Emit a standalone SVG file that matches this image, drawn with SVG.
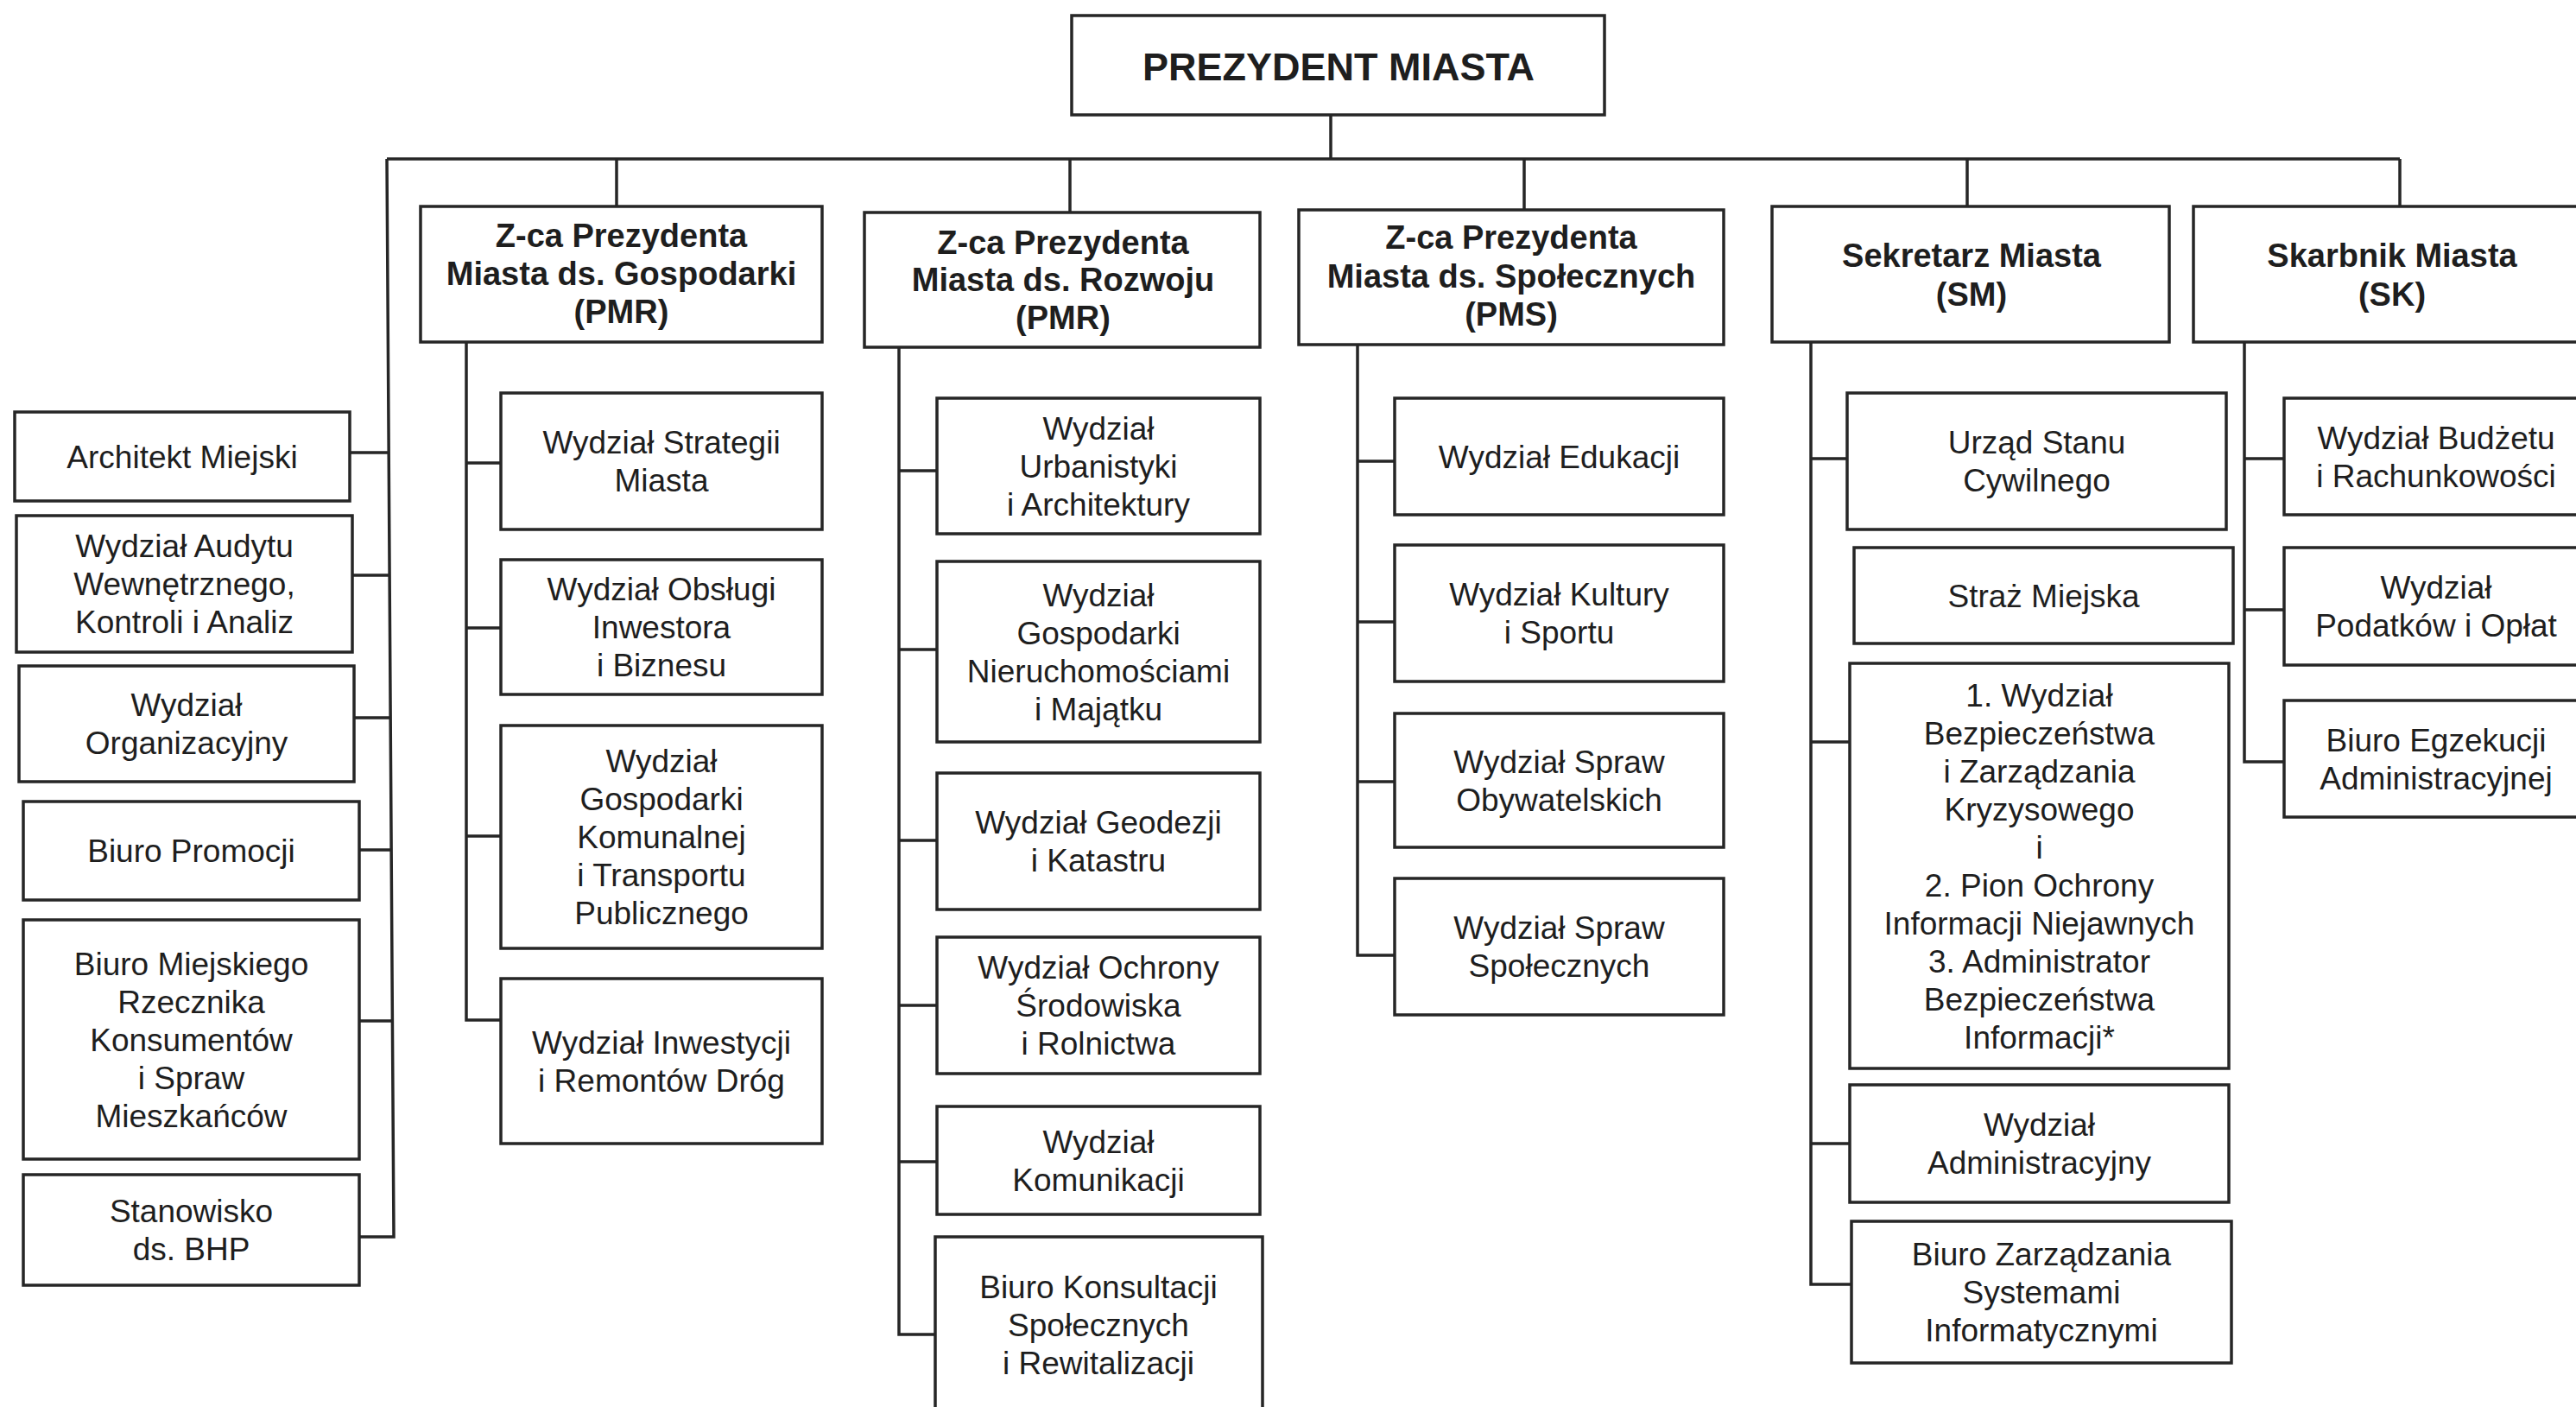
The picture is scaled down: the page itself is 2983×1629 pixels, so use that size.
<svg xmlns="http://www.w3.org/2000/svg" width="2983" height="1629" viewBox="0 0 2983 1629">
<style>
.box{fill:#fff;stroke:#262626;stroke-width:3.5}
.c{stroke:#262626;stroke-width:3.5;fill:none}
.t{font-family:"Liberation Sans",Arial,sans-serif;font-size:37px;fill:#1e1e1e;text-anchor:middle}
.h{font-weight:bold;font-size:38px}
.p{font-weight:bold;font-size:45px}
</style>
<rect x="0" y="0" width="2983" height="1629" fill="#ffffff"/>
<g id="connectors">
<path class="c" d="M1541 133V184M448 184H2779M714 184V239M1239 184V246M1765 184V243M2278 184V239M2779 184V239"/>
<path class="c" d="M448 184L456 1432H416M405 524H449M408 666H452M410 831H453M416 984H454M416 1182H455"/>
<path class="c" d="M540 396V1181H580M540 536H580M540 727H580M540 968H580"/>
<path class="c" d="M1041 402V1545H1083M1041 545H1085M1041 752H1085M1041 973H1085M1041 1164H1085M1041 1345H1085"/>
<path class="c" d="M1572 399V1106H1615M1572 534H1615M1572 720H1615M1572 905H1615"/>
<path class="c" d="M2097 396V1487H2144M2097 531H2139M2097 859H2142M2097 1324H2142"/>
<path class="c" d="M2599 396V882H2645M2599 531H2645M2599 706H2645"/>
</g>
<g id="prezydent"><rect class="box" x="1241" y="18" width="617" height="115"/><text class="t p" x="1550" y="93">PREZYDENT MIASTA</text></g>
<g id="zca-gospodarki"><rect class="box" x="487" y="239" width="465" height="157"/><text class="t h"><tspan x="719.5" y="286">Z-ca Prezydenta</tspan><tspan x="719.5" y="330">Miasta ds. Gospodarki</tspan><tspan x="719.5" y="374">(PMR)</tspan></text></g>
<g id="zca-rozwoju"><rect class="box" x="1001" y="246" width="458" height="156"/><text class="t h"><tspan x="1231" y="294">Z-ca Prezydenta</tspan><tspan x="1231" y="337">Miasta ds. Rozwoju</tspan><tspan x="1231" y="381">(PMR)</tspan></text></g>
<g id="zca-spolecznych"><rect class="box" x="1504" y="243" width="492" height="156"/><text class="t h"><tspan x="1750" y="288">Z-ca Prezydenta</tspan><tspan x="1750" y="333">Miasta ds. Społecznych</tspan><tspan x="1750" y="377">(PMS)</tspan></text></g>
<g id="sekretarz"><rect class="box" x="2052" y="239" width="460" height="157"/><text class="t h"><tspan x="2283" y="309">Sekretarz Miasta</tspan><tspan x="2283" y="354">(SM)</tspan></text></g>
<g id="skarbnik"><rect class="box" x="2540" y="239" width="460" height="157"/><text class="t h"><tspan x="2770" y="309">Skarbnik Miasta</tspan><tspan x="2770" y="354">(SK)</tspan></text></g>

<g id="architekt"><rect class="box" x="17" y="477" width="388" height="103"/><text class="t" x="211" y="542">Architekt Miejski</text></g>
<g id="audyt"><rect class="box" x="19" y="597" width="389" height="158"/><text class="t"><tspan x="213.5" y="645">Wydział Audytu</tspan><tspan x="213.5" y="689">Wewnętrznego,</tspan><tspan x="213.5" y="733">Kontroli i Analiz</tspan></text></g>
<g id="organizacyjny"><rect class="box" x="22" y="771" width="388" height="134"/><text class="t"><tspan x="216" y="829">Wydział</tspan><tspan x="216" y="873">Organizacyjny</tspan></text></g>
<g id="promocja"><rect class="box" x="27" y="928" width="389" height="114"/><text class="t" x="221.5" y="998">Biuro Promocji</text></g>
<g id="rzecznik"><rect class="box" x="27" y="1065" width="389" height="277"/><text class="t"><tspan x="221.5" y="1129">Biuro Miejskiego</tspan><tspan x="221.5" y="1173">Rzecznika</tspan><tspan x="221.5" y="1217">Konsumentów</tspan><tspan x="221.5" y="1261">i Spraw</tspan><tspan x="221.5" y="1305">Mieszkańców</tspan></text></g>
<g id="bhp"><rect class="box" x="27" y="1360" width="389" height="128"/><text class="t"><tspan x="221.5" y="1415">Stanowisko</tspan><tspan x="221.5" y="1459">ds. BHP</tspan></text></g>

<g id="strategia"><rect class="box" x="580" y="455" width="372" height="158"/><text class="t"><tspan x="766" y="525">Wydział Strategii</tspan><tspan x="766" y="569">Miasta</tspan></text></g>
<g id="inwestor"><rect class="box" x="580" y="648" width="372" height="156"/><text class="t"><tspan x="766" y="695">Wydział Obsługi</tspan><tspan x="766" y="739">Inwestora</tspan><tspan x="766" y="783">i Biznesu</tspan></text></g>
<g id="komunalna"><rect class="box" x="580" y="840" width="372" height="258"/><text class="t"><tspan x="766" y="894">Wydział</tspan><tspan x="766" y="938">Gospodarki</tspan><tspan x="766" y="982">Komunalnej</tspan><tspan x="766" y="1026">i Transportu</tspan><tspan x="766" y="1070">Publicznego</tspan></text></g>
<g id="drogi"><rect class="box" x="580" y="1133" width="372" height="191"/><text class="t"><tspan x="766" y="1220">Wydział Inwestycji</tspan><tspan x="766" y="1264">i Remontów Dróg</tspan></text></g>

<g id="urbanistyka"><rect class="box" x="1085" y="461" width="374" height="157"/><text class="t"><tspan x="1272" y="509">Wydział</tspan><tspan x="1272" y="553">Urbanistyki</tspan><tspan x="1272" y="597">i Architektury</tspan></text></g>
<g id="nieruchomosci"><rect class="box" x="1085" y="650" width="374" height="209"/><text class="t"><tspan x="1272" y="702">Wydział</tspan><tspan x="1272" y="746">Gospodarki</tspan><tspan x="1272" y="790">Nieruchomościami</tspan><tspan x="1272" y="834">i Majątku</tspan></text></g>
<g id="geodezja"><rect class="box" x="1085" y="895" width="374" height="158"/><text class="t"><tspan x="1272" y="965">Wydział Geodezji</tspan><tspan x="1272" y="1009">i Katastru</tspan></text></g>
<g id="srodowisko"><rect class="box" x="1085" y="1085" width="374" height="158"/><text class="t"><tspan x="1272" y="1133">Wydział Ochrony</tspan><tspan x="1272" y="1177">Środowiska</tspan><tspan x="1272" y="1221">i Rolnictwa</tspan></text></g>
<g id="komunikacja"><rect class="box" x="1085" y="1281" width="374" height="125"/><text class="t"><tspan x="1272" y="1335">Wydział</tspan><tspan x="1272" y="1379">Komunikacji</tspan></text></g>
<g id="konsultacje"><rect class="box" x="1083" y="1432" width="379" height="210"/><text class="t"><tspan x="1272" y="1503">Biuro Konsultacji</tspan><tspan x="1272" y="1547">Społecznych</tspan><tspan x="1272" y="1591">i Rewitalizacji</tspan></text></g>

<g id="edukacja"><rect class="box" x="1615" y="461" width="381" height="135"/><text class="t" x="1805.5" y="542">Wydział Edukacji</text></g>
<g id="kultura"><rect class="box" x="1615" y="631" width="381" height="158"/><text class="t"><tspan x="1805.5" y="701">Wydział Kultury</tspan><tspan x="1805.5" y="745">i Sportu</tspan></text></g>
<g id="obywatelskie"><rect class="box" x="1615" y="826" width="381" height="155"/><text class="t"><tspan x="1805.5" y="895">Wydział Spraw</tspan><tspan x="1805.5" y="939">Obywatelskich</tspan></text></g>
<g id="spoleczne"><rect class="box" x="1615" y="1017" width="381" height="158"/><text class="t"><tspan x="1805.5" y="1087">Wydział Spraw</tspan><tspan x="1805.5" y="1131">Społecznych</tspan></text></g>

<g id="usc"><rect class="box" x="2139" y="455" width="439" height="158"/><text class="t"><tspan x="2358.5" y="525">Urząd Stanu</tspan><tspan x="2358.5" y="569">Cywilnego</tspan></text></g>
<g id="straz"><rect class="box" x="2147" y="634" width="439" height="111"/><text class="t" x="2366.5" y="703">Straż Miejska</text></g>
<g id="bezpieczenstwo"><rect class="box" x="2142" y="768" width="439" height="469"/><text class="t"><tspan x="2361.5" y="818">1. Wydział</tspan><tspan x="2361.5" y="862">Bezpieczeństwa</tspan><tspan x="2361.5" y="906">i Zarządzania</tspan><tspan x="2361.5" y="950">Kryzysowego</tspan><tspan x="2361.5" y="994">i</tspan><tspan x="2361.5" y="1038">2. Pion Ochrony</tspan><tspan x="2361.5" y="1082">Informacji Niejawnych</tspan><tspan x="2361.5" y="1126">3. Administrator</tspan><tspan x="2361.5" y="1170">Bezpieczeństwa</tspan><tspan x="2361.5" y="1214">Informacji*</tspan></text></g>
<g id="administracyjny"><rect class="box" x="2142" y="1256" width="439" height="136"/><text class="t"><tspan x="2361.5" y="1315">Wydział</tspan><tspan x="2361.5" y="1359">Administracyjny</tspan></text></g>
<g id="informatyka"><rect class="box" x="2144" y="1414" width="440" height="164"/><text class="t"><tspan x="2364" y="1465">Biuro Zarządzania</tspan><tspan x="2364" y="1509">Systemami</tspan><tspan x="2364" y="1553">Informatycznymi</tspan></text></g>

<g id="budzet"><rect class="box" x="2645" y="461" width="355" height="135"/><text class="t"><tspan x="2821" y="520">Wydział Budżetu</tspan><tspan x="2821" y="564">i Rachunkowości</tspan></text></g>
<g id="podatki"><rect class="box" x="2645" y="634" width="355" height="136"/><text class="t"><tspan x="2821" y="693">Wydział</tspan><tspan x="2821" y="737">Podatków i Opłat</tspan></text></g>
<g id="egzekucja"><rect class="box" x="2645" y="811" width="355" height="135"/><text class="t"><tspan x="2821" y="870">Biuro Egzekucji</tspan><tspan x="2821" y="914">Administracyjnej</tspan></text></g>
</svg>
